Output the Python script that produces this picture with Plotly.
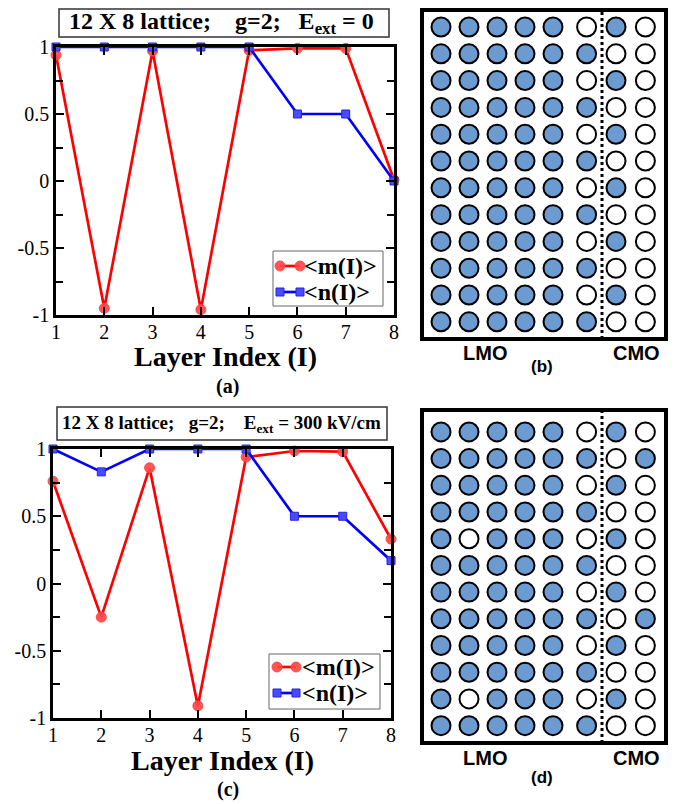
import plotly.graph_objects as go

# ---------------- data ----------------
layers = [1, 2, 3, 4, 5, 6, 7, 8]
m_a = [0.94, -0.95, 0.97, -0.96, 0.975, 0.99, 0.99, 0.01]
n_a = [1.0, 1.0, 1.0, 1.0, 1.0, 0.5, 0.5, 0.0]
m_c = [0.76, -0.25, 0.86, -0.91, 0.94, 0.985, 0.98, 0.33]
n_c = [1.0, 0.83, 1.0, 1.0, 1.0, 0.5, 0.5, 0.17]
ytick_vals = [-1, -0.5, 0, 0.5, 1]
ytick_text = ["-1", "-0.5", "0", "0.5", "1"]
xtick_vals = [1, 2, 3, 4, 5, 6, 7, 8]
series_names = ["<m(I)>", "<n(I)>"]
x_title = "Layer Index (I)"
NB = "\u00a0"
title_a = "12 X 8 lattice;" + NB * 4 + "g=2;" + NB * 3 + "E<sub>ext</sub> = 0"
title_c = "12 X 8 lattice;" + NB * 3 + "g=2;" + NB * 4 + "E<sub>ext</sub> = 300 kV/cm"
# lattice occupation (1 = filled, 0 = empty), rows from top to bottom
lattice_b = [
    "11111010", "11111100", "11111010", "11111100",
    "11111010", "11111100", "11111010", "11111100",
    "11111010", "11111100", "11111010", "11111100",
]
lattice_d = [
    "11111010", "11111101", "11111010", "11111100",
    "10111010", "11111100", "11111010", "11111101",
    "11111010", "11111100", "10111010", "11111100",
]
region_labels = ["LMO", "CMO"]
panel_labels = ["(a)", "(b)", "(c)", "(d)"]

# ---------------- helpers ----------------
OFF = 8                      # page body margin
W, H = 676 - OFF, 804 - OFF  # figure size that fits the window
def fx(px):
    return (px - OFF) / W
def fy(py):
    return 1 - (py - OFF) / H

SERIF = "Liberation Serif"
SANS = "Liberation Sans"
BLUE_FILL = "#6b9bd1"
RED = "#ff0000"
RED_MK = "rgba(255,70,70,0.92)"
BLUE = "#0000ff"
BLUE_MK = "#4a4aff"
col_offsets = [0, 0, 0, 0, 0, 0.2, 0.25, 0.3]

fig = go.Figure()

def add_lines(m, n, xa, ya):
    fig.add_trace(go.Scatter(
        x=layers, y=m, mode="lines+markers", name=series_names[0],
        line=dict(color=RED, width=2.7),
        marker=dict(symbol="circle", size=10, color=RED_MK,
                    line=dict(color=RED_MK, width=1)),
        xaxis=xa, yaxis=ya, showlegend=False, cliponaxis=False))
    fig.add_trace(go.Scatter(
        x=layers, y=n, mode="lines+markers", name=series_names[1],
        line=dict(color=BLUE, width=2.7),
        marker=dict(symbol="square", size=8, color=BLUE_MK,
                    line=dict(color="#2525dd", width=1)),
        xaxis=xa, yaxis=ya, showlegend=False, cliponaxis=False))

add_lines(m_a, n_a, "x", "y")
add_lines(m_c, n_c, "x2", "y2")

def add_lattice(lat, xa, ya):
    xs, ys, cols = [], [], []
    for r, row in enumerate(lat):
        for c, v in enumerate(row):
            xs.append(c + col_offsets[c])
            ys.append(len(lat) - 1 - r)
            cols.append(BLUE_FILL if v == "1" else "white")
    fig.add_trace(go.Scatter(
        x=xs, y=ys, mode="markers", showlegend=False, hoverinfo="skip",
        marker=dict(symbol="circle", size=19, color=cols,
                    line=dict(color="black", width=2)),
        xaxis=xa, yaxis=ya, cliponaxis=False))

add_lattice(lattice_b, "x3", "y3")
add_lattice(lattice_d, "x4", "y4")

axis_common = dict(
    showline=True, linecolor="black", linewidth=2.5, mirror="ticks",
    ticks="inside", ticklen=8, tickwidth=2, tickcolor="black",
    showgrid=False, zeroline=False, automargin=False,
    tickfont=dict(family=SERIF, size=20, color="black"),
)

def xaxis_cfg(x0, x1, anchor):
    return dict(axis_common, domain=[fx(x0), fx(x1)], anchor=anchor,
                range=[1, 8], tickvals=xtick_vals, ticklabelstandoff=-3)

def yaxis_cfg(y0, y1, anchor):
    return dict(axis_common, domain=[fy(y1), fy(y0)], anchor=anchor,
                range=[-1, 1], tickvals=ytick_vals, ticktext=ytick_text,
                minor=dict(ticks="inside", tickvals=[-0.75, -0.25, 0.25, 0.75],
                           ticklen=7, tickwidth=2, tickcolor="black"))

lat_x = dict(visible=False, range=[-0.679, 8.036], fixedrange=True,
             automargin=False)

fig.update_layout(
    width=W, height=H,
    margin=dict(l=0, r=0, t=0, b=0, pad=0, autoexpand=False),
    paper_bgcolor="white", plot_bgcolor="white",
    xaxis=xaxis_cfg(56, 394, "y"),
    yaxis=yaxis_cfg(47, 315, "x"),
    xaxis2=xaxis_cfg(53, 391, "y2"),
    yaxis2=yaxis_cfg(449, 718, "x2"),
    xaxis3=dict(lat_x, domain=[fx(422), fx(666)], anchor="y3"),
    yaxis3=dict(visible=False, domain=[fy(339), fy(8)], anchor="x3",
                range=[-0.64, 11.709], fixedrange=True, automargin=False),
    xaxis4=dict(lat_x, domain=[fx(422), fx(666)], anchor="y4"),
    yaxis4=dict(visible=False, domain=[fy(743), fy(410)], anchor="x4",
                range=[-0.65, 11.82], fixedrange=True, automargin=False),
    showlegend=False,
)

shapes = []
annotations = []

def ann(x, y, text, family, size, xanchor="center"):
    annotations.append(dict(xref="paper", yref="paper", x=fx(x), y=fy(y),
                            xanchor=xanchor, yanchor="middle",
                            text=text, showarrow=False,
                            font=dict(family=family, size=size, color="black",
                                      weight="bold")))

def rect(x0, x1, y0, y1, color, width, fill=None, layer="above"):
    d = dict(type="rect", xref="paper", yref="paper",
             x0=fx(x0), x1=fx(x1), y0=fy(y1), y1=fy(y0),
             line=dict(color=color, width=width), layer=layer)
    if fill:
        d["fillcolor"] = fill
    shapes.append(d)

# title boxes
rect(59, 389, 9, 37, "#333", 1.5, "white", "below")
ann(221, 23, title_a, SERIF, 24)
rect(57, 387, 407, 440, "#333", 1.5, "white", "below")
ann(221, 424, title_c, SERIF, 19)

# x-axis titles and panel labels
ann(225, 356, x_title, SERIF, 28)
ann(227, 386, panel_labels[0], SERIF, 20)
ann(222, 760, x_title, SERIF, 28)
ann(228, 789, panel_labels[2], SERIF, 20)

# legends (drawn as boxed keys)
def legend_box(x0, x1, y0, y1, xl0, xl1, ya, yb, xt):
    rect(x0, x1, y0, y1, "#666", 1, "white", "above")
    shapes.append(dict(type="line", xref="paper", yref="paper",
                       x0=fx(xl0), x1=fx(xl1), y0=fy(ya), y1=fy(ya),
                       line=dict(color=RED, width=2.7)))
    for xc in (xl0, xl1):
        shapes.append(dict(type="circle", xref="paper", yref="paper",
                           x0=fx(xc - 5), x1=fx(xc + 5), y0=fy(ya + 5), y1=fy(ya - 5),
                           fillcolor=RED_MK, line=dict(color=RED_MK, width=1)))
    shapes.append(dict(type="line", xref="paper", yref="paper",
                       x0=fx(xl0), x1=fx(xl1), y0=fy(yb), y1=fy(yb),
                       line=dict(color=BLUE, width=2.7)))
    for xc in (xl0, xl1):
        shapes.append(dict(type="rect", xref="paper", yref="paper",
                           x0=fx(xc - 4), x1=fx(xc + 4), y0=fy(yb + 4), y1=fy(yb - 4),
                           fillcolor=BLUE_MK, line=dict(color="#2525dd", width=1)))
    ann(xt, ya, series_names[0].replace("<", "&lt;").replace(">", "&gt;"),
        SERIF, 24, "left")
    ann(xt, yb, series_names[1].replace("<", "&lt;").replace(">", "&gt;"),
        SERIF, 24, "left")

legend_box(273, 383, 251, 306, 280, 300, 266, 292, 302)
legend_box(269, 380, 654, 709, 277, 296, 667, 693, 300)

# lattice boxes and dividers
for (yt, yb, ylab, ypan, pan) in [(10, 339, 353, 366, panel_labels[1]),
                                  (410, 743, 758, 777, panel_labels[3])]:
    rect(422, 666, yt, yb, "black", 4)
    shapes.append(dict(type="line", xref="paper", yref="paper",
                       x0=fx(602), x1=fx(602), y0=fy(yb), y1=fy(yt),
                       line=dict(color="black", width=3, dash="dot")))
    ann(485, ylab, region_labels[0], SANS, 20)
    ann(636, ylab, region_labels[1], SANS, 20)
    ann(542, ypan, pan, SANS, 17)

fig.update_layout(shapes=shapes, annotations=annotations)

fig.write_html("out.html")
